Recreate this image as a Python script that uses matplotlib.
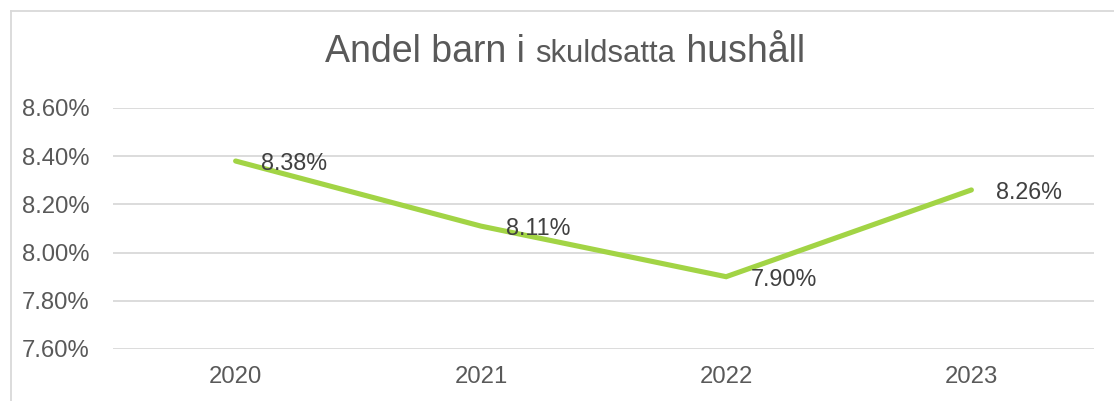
import matplotlib
matplotlib.use("Agg")
import matplotlib.pyplot as plt
from matplotlib.lines import Line2D
from matplotlib.ticker import FuncFormatter, MultipleLocator

years = ["2020", "2021", "2022", "2023"]
values = [8.38, 8.11, 7.90, 8.26]
labels = ["8.38%", "8.11%", "7.90%", "8.26%"]

plt.rcParams['font.family'] = ['Liberation Sans', 'DejaVu Sans']

W, H = 1114, 401
fig = plt.figure(figsize=(W / 100, H / 100), dpi=100)
fig.patch.set_facecolor("white")

ax = fig.add_axes([113 / W, 1 - 349 / H, (1094 - 113) / W, (349 - 108) / H])
x = list(range(len(years)))
ax.plot(x, values, color="#a2d445", lw=3.7, solid_capstyle="round", solid_joinstyle="miter", zorder=3)
for xi, v, lab in zip(x, values, labels):
    ax.annotate(lab, (xi, v), xytext=(18, 0), textcoords="offset points",
                ha="left", va="center_baseline", fontsize=16.8, color="#404040", zorder=4)

ax.set_xlim(-0.5, len(years) - 0.5)
ax.set_ylim(7.6, 8.6)
ax.yaxis.set_major_locator(MultipleLocator(0.2))
ax.yaxis.set_major_formatter(FuncFormatter(lambda v, p: f"{v:.2f}%"))
ax.set_xticks(x)
ax.set_xticklabels(years)
ax.grid(axis="y", color="#d9d9d9", lw=1.3)
ax.set_axisbelow(True)
for s in ax.spines.values():
    s.set_visible(False)
ax.tick_params(axis="both", length=0, labelsize=17.2, colors="#595959")
ax.tick_params(axis="y", pad=17)
ax.tick_params(axis="x", pad=12)

# border (cropped chart frame)
fig.add_artist(Line2D([10.5 / W, 10.5 / W], [0, 1 - 10.5 / H], transform=fig.transFigure, color="#d9d9d9", lw=1.3))
fig.add_artist(Line2D([10.5 / W, 1], [1 - 10.5 / H, 1 - 10.5 / H], transform=fig.transFigure, color="#d9d9d9", lw=1.3))

# title with mixed sizes
parts = [("Andel barn i ", 27.0), ("skuldsatta", 22.3), (" hushåll", 27.0)]
texts = []
fig.canvas.draw()
r = fig.canvas.get_renderer()
base_y = 1 - 62 / H
xpos = 0
for s, fs in parts:
    t = fig.text(xpos, base_y, s, fontsize=fs, color="#595959", ha="left", va="baseline")
    bb = t.get_window_extent(renderer=r)
    xpos += bb.width / W
    texts.append(t)
total = xpos
start = 565 / W - total / 2
xpos = start
for t in texts:
    t.set_x(xpos)
    bb = t.get_window_extent(renderer=r)
    xpos += bb.width / W

fig.savefig("out.png", dpi=100, facecolor="white")
